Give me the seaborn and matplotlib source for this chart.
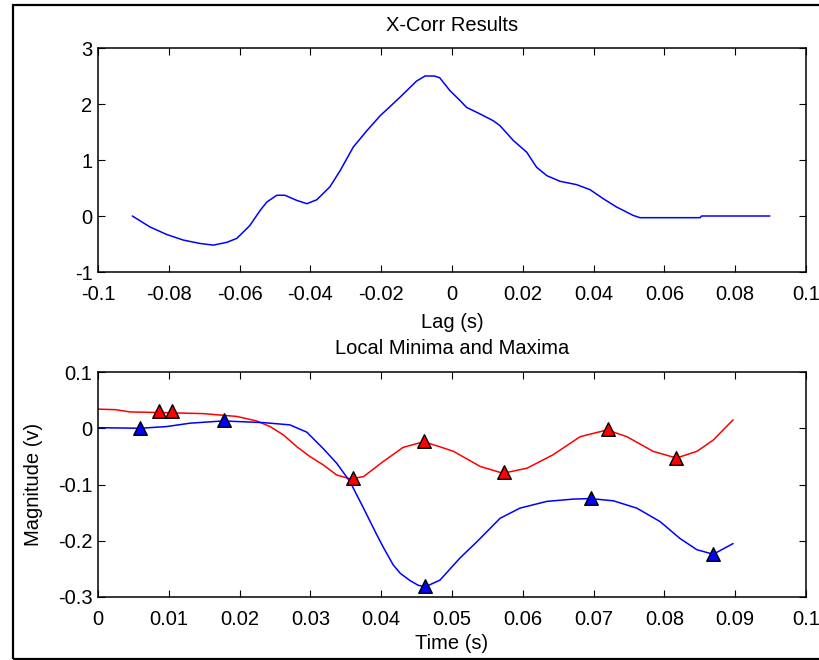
import matplotlib
matplotlib.use("Agg")
import matplotlib.pyplot as plt
from matplotlib.patches import Rectangle
import seaborn as sns
import pandas as pd

# --- cross-correlation result -------------------------------------------
lag_s = [-0.0903, -0.0853, -0.0806, -0.0759, -0.0712, -0.0674, -0.0636, -0.0608,
         -0.0571, -0.0542, -0.0523, -0.0495, -0.0472, -0.0439, -0.0410, -0.0382,
         -0.0345, -0.0316, -0.0279, -0.0241, -0.0203, -0.0147, -0.0100, -0.0076,
         -0.0050, -0.0035, -0.0006, 0.0023, 0.0041, 0.0080, 0.0117, 0.0136,
         0.0173, 0.0211, 0.0239, 0.0268, 0.0305, 0.0352, 0.0390, 0.0427,
         0.0465, 0.0512, 0.0531, 0.0701, 0.0705, 0.0898]
xcorr = [0.00, -0.196, -0.33, -0.43, -0.49, -0.52, -0.47, -0.40,
         -0.17, 0.10, 0.25, 0.37, 0.37, 0.28, 0.22, 0.29,
         0.52, 0.81, 1.23, 1.52, 1.79, 2.12, 2.41, 2.50,
         2.50, 2.47, 2.24, 2.06, 1.94, 1.82, 1.70, 1.61,
         1.35, 1.14, 0.87, 0.72, 0.62, 0.56, 0.47, 0.31,
         0.16, 0.01, -0.03, -0.03, 0.00, 0.00]

# --- filtered signals ---------------------------------------------------
t_red = [0.0, 0.0025, 0.0045, 0.0085, 0.0149, 0.0196, 0.0224, 0.0243, 0.0262,
         0.0281, 0.0299, 0.0318, 0.0337, 0.0356, 0.0375, 0.0403, 0.0431, 0.0460,
         0.0483, 0.0502, 0.0540, 0.0572, 0.0606, 0.0643, 0.0681, 0.0719, 0.0747,
         0.0784, 0.0817, 0.0846, 0.0869, 0.0897]
v_red = [0.034, 0.033, 0.029, 0.028, 0.026, 0.021, 0.013, 0.003, -0.012,
         -0.033, -0.050, -0.065, -0.083, -0.090, -0.086, -0.059, -0.034, -0.024,
         -0.033, -0.041, -0.068, -0.080, -0.071, -0.047, -0.015, -0.003, -0.015,
         -0.041, -0.053, -0.041, -0.021, 0.015]

t_blue = [0.0, 0.0060, 0.0097, 0.0130, 0.0177, 0.0234, 0.0271, 0.0295, 0.0318,
          0.0337, 0.0356, 0.0375, 0.0394, 0.0404, 0.0417, 0.0427, 0.0441, 0.0452,
          0.0462, 0.0483, 0.0511, 0.0535, 0.0568, 0.0596, 0.0634, 0.0671, 0.0695,
          0.0728, 0.0761, 0.0794, 0.0822, 0.0846, 0.0869, 0.0897]
v_blue = [0.001, 0.000, 0.003, 0.009, 0.013, 0.010, 0.006, -0.007, -0.036,
          -0.062, -0.095, -0.142, -0.190, -0.214, -0.243, -0.258, -0.271, -0.279,
          -0.282, -0.270, -0.231, -0.202, -0.160, -0.142, -0.130, -0.126, -0.125,
          -0.129, -0.142, -0.166, -0.196, -0.216, -0.224, -0.205]

# local extrema
ext_red_t = [0.0086, 0.0104, 0.0360, 0.0461, 0.0574, 0.0721, 0.0817]
ext_red_v = [0.030, 0.030, -0.089, -0.022, -0.077, -0.002, -0.052]
ext_blue_t = [0.0060, 0.0178, 0.0462, 0.0696, 0.0868]
ext_blue_v = [0.000, 0.015, -0.281, -0.124, -0.223]

# axis ticks
top_xticks = [-0.1, -0.08, -0.06, -0.04, -0.02, 0, 0.02, 0.04, 0.06, 0.08, 0.1]
top_xlabels = ["-0.1", "-0.08", "-0.06", "-0.04", "-0.02", "0", "0.02", "0.04", "0.06", "0.08", "0.1"]
top_yticks = [-1, 0, 1, 2, 3]
top_ylabels = ["-1", "0", "1", "2", "3"]
bot_xticks = [0, 0.01, 0.02, 0.03, 0.04, 0.05, 0.06, 0.07, 0.08, 0.09, 0.1]
bot_xlabels = ["0", "0.01", "0.02", "0.03", "0.04", "0.05", "0.06", "0.07", "0.08", "0.09", "0.1"]
bot_yticks = [-0.3, -0.2, -0.1, 0, 0.1]
bot_ylabels = ["-0.3", "-0.2", "-0.1", "0", "0.1"]

sns.set_style("ticks")
plt.rcParams["font.family"] = ["Liberation Sans", "DejaVu Sans"]
plt.rcParams["font.size"] = 14.5
plt.rcParams["text.color"] = "black"
plt.rcParams["axes.labelcolor"] = "black"
plt.rcParams["axes.titlecolor"] = "black"

fig = plt.figure(figsize=(8.19, 6.6), dpi=100)
fig.patch.set_facecolor("white")

W, H = 819.0, 660.0
ax1 = fig.add_axes([98 / W, 1 - 272 / H, (806 - 98) / W, (272 - 48) / H])
ax2 = fig.add_axes([98 / W, 1 - 597 / H, (806 - 98) / W, (597 - 372) / H])

# frame around the figure
fig.patches.append(Rectangle((13 / W, 1 - 659 / H), 1.0, (659 - 5) / H,
                             transform=fig.transFigure, fill=False,
                             edgecolor="black", linewidth=1.6, clip_on=False))

df_x = pd.DataFrame({"lag": lag_s, "r": xcorr})
sns.lineplot(data=df_x, x="lag", y="r", ax=ax1, color="#0000ff", linewidth=1.1,
             sort=False, estimator=None)

df_r = pd.DataFrame({"t": t_red, "v": v_red})
df_b = pd.DataFrame({"t": t_blue, "v": v_blue})
sns.lineplot(data=df_r, x="t", y="v", ax=ax2, color="#ff0000", linewidth=1.1,
             sort=False, estimator=None)
sns.lineplot(data=df_b, x="t", y="v", ax=ax2, color="#0000ff", linewidth=1.1,
             sort=False, estimator=None)
sns.scatterplot(x=ext_red_t, y=ext_red_v, ax=ax2, marker="^", s=95,
                color="#ff0000", edgecolor="black", linewidth=1.0, zorder=5)
sns.scatterplot(x=ext_blue_t, y=ext_blue_v, ax=ax2, marker="^", s=95,
                color="#0000ff", edgecolor="black", linewidth=1.0, zorder=5)

ax1.set_xlim(-0.1, 0.1)
ax1.set_ylim(-1, 3)
ax1.set_xticks(top_xticks, top_xlabels)
ax1.set_yticks(top_yticks, top_ylabels)
ax1.set_title("X-Corr Results", fontsize=14.5, pad=12.5, color="black")
ax1.set_xlabel("Lag (s)", fontsize=14.5, labelpad=6.5)
ax1.set_ylabel("")

ax2.set_xlim(0, 0.1)
ax2.set_ylim(-0.3, 0.1)
ax2.set_xticks(bot_xticks, bot_xlabels)
ax2.set_yticks(bot_yticks, bot_ylabels)
ax2.set_title("Local Minima and Maxima", fontsize=14.5, pad=13, color="black")
ax2.set_xlabel("Time (s)", fontsize=14.5, labelpad=3.5)
ax2.set_ylabel("Magnitude (v)", fontsize=14.5, labelpad=10.5)

for ax in (ax1, ax2):
    for sp in ax.spines.values():
        sp.set_visible(True)
        sp.set_linewidth(1.1)
        sp.set_color("black")
    ax.tick_params(direction="in", length=5, width=0.8, top=True, right=True,
                   labelsize=14.5, colors="black", pad=4)
    ax.tick_params(axis="x", pad=9.5)
    ax.set_facecolor("white")

fig.savefig("out.png", dpi=100, facecolor="white")
